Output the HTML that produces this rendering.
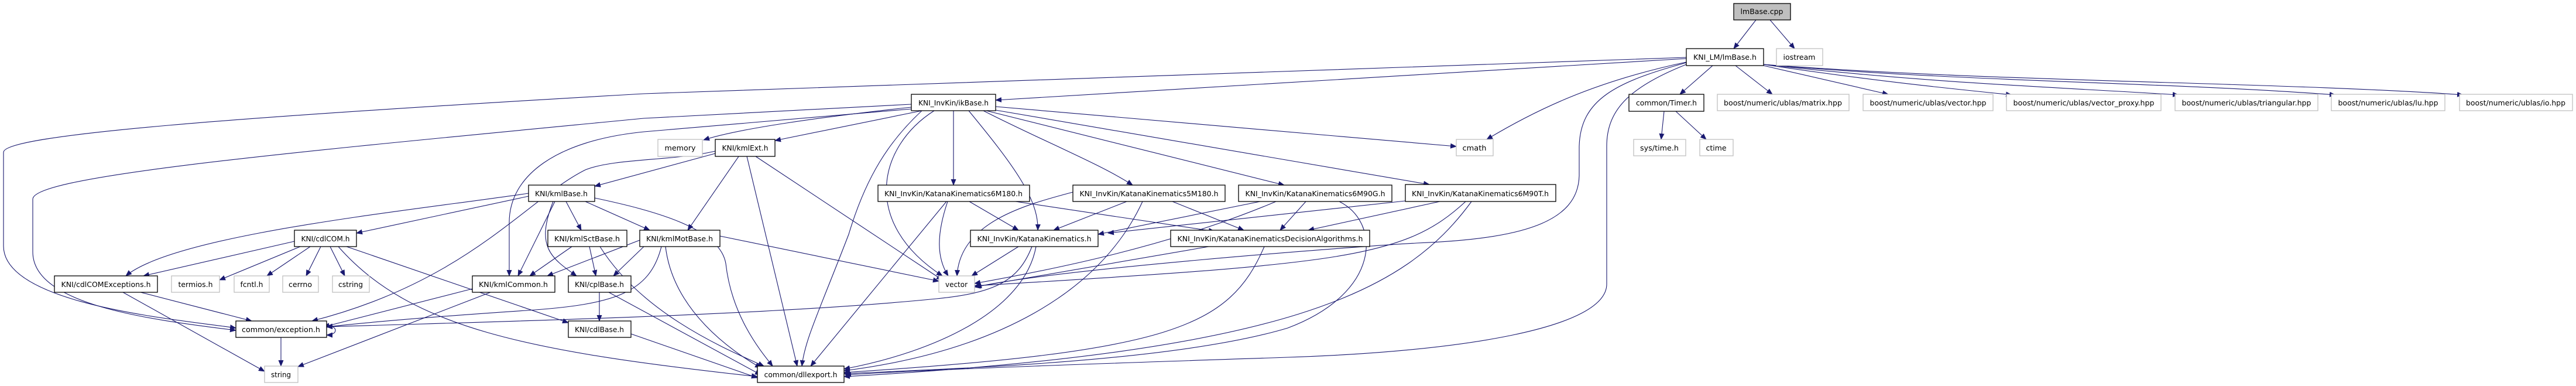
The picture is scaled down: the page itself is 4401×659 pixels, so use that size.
<!DOCTYPE html>
<html><head><meta charset="utf-8"><style>
html,body{margin:0;padding:0;background:#fff;}
svg{display:block;}
text{font-family:"DejaVu Sans","Liberation Sans",sans-serif;font-size:12px;fill:#000;}
</style></head><body>
<svg width="4401" height="659" viewBox="0 0 4401 659" xmlns="http://www.w3.org/2000/svg">
<defs>
<marker id="a" markerUnits="userSpaceOnUse" markerWidth="11" markerHeight="9" refX="10" refY="4.5" orient="auto">
<path d="M0,0 L11,4.5 L0,9 z" fill="#191970"/>
</marker>
</defs>
<g fill="none" stroke="#191970" stroke-width="1.1" marker-end="url(#a)">
<path d="M3000,34 L2962,83"/>
<path d="M3024,34 L3066,83"/>
<path d="M2926,112 L2870,161"/>
<path d="M2965,112 L3028,161"/>
<path d="M3013,112 L3226,161"/>
<path d="M3013,110 C3200,138 3320,150 3437,162"/>
<path d="M3013,110 C3300,142 3500,148 3722,162"/>
<path d="M3013,110 C3350,140 3700,140 3990,162"/>
<path d="M3013,110 C3400,140 3900,140 4208,162"/>
<path d="M2881,106 C2720,140 2620,190 2540,238"/>
<path d="M2881,100 L1701,171"/>
<path d="M2881,107 C2760,140 2700,170 2698,250 L2698,300 C2696,380 2600,408 2420,415 C2300,422 1800,460 1667,490"/>
<path d="M2881,110 C2780,150 2745,190 2745,250 L2745,485 C2745,560 2500,600 2200,610 C1900,620 1600,630 1444,640"/>
<path d="M2881,98 L1100,160 C400,200 6,230 6,260 L6,420 C6,520 300,545 403,560"/>
<path d="M2843,190 L2838,238"/>
<path d="M2863,190 L2915,238"/>
<path d="M1557,178 L1100,202 C500,260 56,300 56,340 L56,430 C56,520 250,545 403,564"/>
<path d="M1557,183 C1400,200 1260,220 1202,239"/>
<path d="M1575,189 L1324,240"/>
<path d="M1557,186 L1100,225 C950,240 870,300 870,380 L870,471"/>
<path d="M1575,189 C1520,240 1480,300 1450,400 C1400,530 1375,580 1370,625"/>
<path d="M1596,189 C1500,250 1470,380 1610,471"/>
<path d="M1629,189 L1629,316"/>
<path d="M1655,189 C1730,280 1775,340 1773,393"/>
<path d="M1680,189 C1780,240 1880,280 1935,316"/>
<path d="M1685,189 L2194,316"/>
<path d="M1701,188 L2442,315"/>
<path d="M1701,182 L2488,250"/>
<path d="M1222,262 L1016,318"/>
<path d="M1222,258 C1150,275 1050,270 1000,290 C900,340 800,480 533,548"/>
<path d="M1262,267 L1175,393"/>
<path d="M1276,267 L1362,625"/>
<path d="M1291,267 L1610,478"/>
<path d="M903,335 L609,398"/>
<path d="M903,330 C700,360 300,400 215,471"/>
<path d="M948,344 L885,471"/>
<path d="M967,344 L993,393"/>
<path d="M945,344 C915,420 940,440 985,471"/>
<path d="M1000,344 L1110,393"/>
<path d="M1016,338 C1120,360 1230,390 1240,450 C1250,540 1300,600 1320,625"/>
<path d="M503,412 L245,471"/>
<path d="M513,421 L375,478"/>
<path d="M530,421 L456,471"/>
<path d="M548,421 L523,471"/>
<path d="M564,421 L589,471"/>
<path d="M592,421 L971,551"/>
<path d="M578,421 C700,560 900,600 1294,643"/>
<path d="M240,499 L430,548"/>
<path d="M210,499 L452,634"/>
<path d="M807,493 L553,558"/>
<path d="M838,499 L509,626"/>
<path d="M977,421 L905,471"/>
<path d="M1007,421 L1018,471"/>
<path d="M1025,421 C1100,540 1250,600 1305,625"/>
<path d="M1093,410 L935,471"/>
<path d="M1100,421 L1048,471"/>
<path d="M1130,421 C1110,500 1050,520 900,530 C750,540 650,548 558,558"/>
<path d="M1137,421 C1150,530 1250,600 1300,628"/>
<path d="M1230,403 L1604,480"/>
<path d="M1024,499 L1024,548"/>
<path d="M1040,499 L1300,640"/>
<path d="M1078,570 L1294,645"/>
<path d="M480,576 L480,625"/>
<path d="M558,556 C578,556 578,572 558,572"/>
<path d="M1656,344 L1740,393"/>
<path d="M1619,344 C1600,400 1600,440 1620,471"/>
<path d="M1617,344 L1385,625"/>
<path d="M1735,344 L2075,395"/>
<path d="M1833,328 C1750,350 1640,380 1635,471"/>
<path d="M1925,344 L1800,393"/>
<path d="M1952,344 C1880,500 1700,600 1442,633"/>
<path d="M2003,344 L2125,393"/>
<path d="M2153,344 L1876,400"/>
<path d="M2180,344 C2000,420 1800,460 1665,484"/>
<path d="M2231,344 L2187,393"/>
<path d="M2288,344 C2360,380 2360,500 2200,560 C2000,620 1600,630 1442,638"/>
<path d="M2401,343 L1893,398"/>
<path d="M2460,344 L2235,393"/>
<path d="M2504,344 C2400,440 2300,450 1665,488"/>
<path d="M2514,344 C2400,500 2200,600 1442,643"/>
<path d="M1740,421 L1660,471"/>
<path d="M1763,421 C1740,480 1700,500 1600,510 C1300,540 800,550 558,558"/>
<path d="M1770,421 C1750,530 1600,600 1442,630"/>
<path d="M2065,421 L1665,490"/>
<path d="M2160,421 C2100,560 2000,600 1442,636"/>
</g>
<g stroke-width="1.3">
<rect x="2962" y="6" width="97" height="28" fill="#bfbfbf" stroke="#000"/>
<g fill="#fff" stroke="#000">
<rect x="2881" y="83" width="132" height="29"/>
<rect x="2783" y="161" width="128" height="29"/>
<rect x="1557" y="161" width="144" height="28"/>
<rect x="1222" y="238" width="102" height="29"/>
<rect x="903" y="316" width="113" height="28"/>
<rect x="1500" y="316" width="259" height="28"/>
<rect x="1833" y="316" width="260" height="28"/>
<rect x="2116" y="316" width="262" height="28"/>
<rect x="2401" y="315" width="257" height="29"/>
<rect x="503" y="393" width="106" height="28"/>
<rect x="936" y="393" width="135" height="28"/>
<rect x="1093" y="393" width="137" height="28"/>
<rect x="1658" y="393" width="218" height="28"/>
<rect x="2000" y="393" width="340" height="28"/>
<rect x="93" y="471" width="176" height="28"/>
<rect x="807" y="471" width="141" height="28"/>
<rect x="971" y="471" width="107" height="28"/>
<rect x="403" y="548" width="155" height="28"/>
<rect x="971" y="548" width="107" height="28"/>
<rect x="1294" y="625" width="148" height="28"/>
</g>
<g fill="#fff" stroke="#bfbfbf">
<rect x="3035" y="83" width="79" height="29"/>
<rect x="2934" y="161" width="225" height="28"/>
<rect x="3183" y="161" width="222" height="28"/>
<rect x="3428" y="161" width="264" height="28"/>
<rect x="3716" y="161" width="244" height="28"/>
<rect x="3983" y="161" width="194" height="28"/>
<rect x="4202" y="161" width="193" height="28"/>
<rect x="2791" y="238" width="89" height="28"/>
<rect x="2904" y="238" width="57" height="28"/>
<rect x="2488" y="238" width="63" height="28"/>
<rect x="1124" y="238" width="76" height="29"/>
<rect x="293" y="471" width="82" height="28"/>
<rect x="400" y="471" width="60" height="28"/>
<rect x="483" y="471" width="61" height="28"/>
<rect x="568" y="471" width="63" height="28"/>
<rect x="1604" y="471" width="61" height="28"/>
<rect x="452" y="625" width="57" height="28"/>
</g>
</g>
<g text-anchor="middle">
<text x="3010" y="24" textLength="73" lengthAdjust="spacingAndGlyphs">lmBase.cpp</text>
<text x="2947" y="102" textLength="108" lengthAdjust="spacingAndGlyphs">KNI_LM/lmBase.h</text>
<text x="3074" y="102" textLength="55" lengthAdjust="spacingAndGlyphs">iostream</text>
<text x="2847" y="180" textLength="104" lengthAdjust="spacingAndGlyphs">common/Timer.h</text>
<text x="3046" y="180" textLength="202" lengthAdjust="spacingAndGlyphs">boost/numeric/ublas/matrix.hpp</text>
<text x="3294" y="180" textLength="199" lengthAdjust="spacingAndGlyphs">boost/numeric/ublas/vector.hpp</text>
<text x="3560" y="180" textLength="241" lengthAdjust="spacingAndGlyphs">boost/numeric/ublas/vector_proxy.hpp</text>
<text x="3838" y="180" textLength="221" lengthAdjust="spacingAndGlyphs">boost/numeric/ublas/triangular.hpp</text>
<text x="4080" y="180" textLength="171" lengthAdjust="spacingAndGlyphs">boost/numeric/ublas/lu.hpp</text>
<text x="4298" y="180" textLength="170" lengthAdjust="spacingAndGlyphs">boost/numeric/ublas/io.hpp</text>
<text x="2835" y="257" textLength="66" lengthAdjust="spacingAndGlyphs">sys/time.h</text>
<text x="2932" y="257" textLength="35" lengthAdjust="spacingAndGlyphs">ctime</text>
<text x="2519" y="257" textLength="41" lengthAdjust="spacingAndGlyphs">cmath</text>
<text x="1629" y="180" textLength="120" lengthAdjust="spacingAndGlyphs">KNI_InvKin/ikBase.h</text>
<text x="1162" y="257" textLength="53" lengthAdjust="spacingAndGlyphs">memory</text>
<text x="1273" y="257" textLength="79" lengthAdjust="spacingAndGlyphs">KNI/kmlExt.h</text>
<text x="959" y="335" textLength="90" lengthAdjust="spacingAndGlyphs">KNI/kmlBase.h</text>
<text x="1629" y="335" textLength="236" lengthAdjust="spacingAndGlyphs">KNI_InvKin/KatanaKinematics6M180.h</text>
<text x="1963" y="335" textLength="237" lengthAdjust="spacingAndGlyphs">KNI_InvKin/KatanaKinematics5M180.h</text>
<text x="2247" y="335" textLength="239" lengthAdjust="spacingAndGlyphs">KNI_InvKin/KatanaKinematics6M90G.h</text>
<text x="2529" y="335" textLength="234" lengthAdjust="spacingAndGlyphs">KNI_InvKin/KatanaKinematics6M90T.h</text>
<text x="556" y="412" textLength="83" lengthAdjust="spacingAndGlyphs">KNI/cdlCOM.h</text>
<text x="1003" y="412" textLength="112" lengthAdjust="spacingAndGlyphs">KNI/kmlSctBase.h</text>
<text x="1161" y="412" textLength="114" lengthAdjust="spacingAndGlyphs">KNI/kmlMotBase.h</text>
<text x="1767" y="412" textLength="195" lengthAdjust="spacingAndGlyphs">KNI_InvKin/KatanaKinematics.h</text>
<text x="2170" y="412" textLength="317" lengthAdjust="spacingAndGlyphs">KNI_InvKin/KatanaKinematicsDecisionAlgorithms.h</text>
<text x="181" y="490" textLength="153" lengthAdjust="spacingAndGlyphs">KNI/cdlCOMExceptions.h</text>
<text x="334" y="490" textLength="59" lengthAdjust="spacingAndGlyphs">termios.h</text>
<text x="430" y="490" textLength="39" lengthAdjust="spacingAndGlyphs">fcntl.h</text>
<text x="513" y="490" textLength="40" lengthAdjust="spacingAndGlyphs">cerrno</text>
<text x="599" y="490" textLength="42" lengthAdjust="spacingAndGlyphs">cstring</text>
<text x="877" y="490" textLength="118" lengthAdjust="spacingAndGlyphs">KNI/kmlCommon.h</text>
<text x="1024" y="490" textLength="84" lengthAdjust="spacingAndGlyphs">KNI/cplBase.h</text>
<text x="1634" y="490" textLength="38" lengthAdjust="spacingAndGlyphs">vector</text>
<text x="480" y="567" textLength="134" lengthAdjust="spacingAndGlyphs">common/exception.h</text>
<text x="1024" y="567" textLength="84" lengthAdjust="spacingAndGlyphs">KNI/cdlBase.h</text>
<text x="480" y="644" textLength="34" lengthAdjust="spacingAndGlyphs">string</text>
<text x="1368" y="644" textLength="125" lengthAdjust="spacingAndGlyphs">common/dllexport.h</text>
</g>
</svg>
</body></html>
